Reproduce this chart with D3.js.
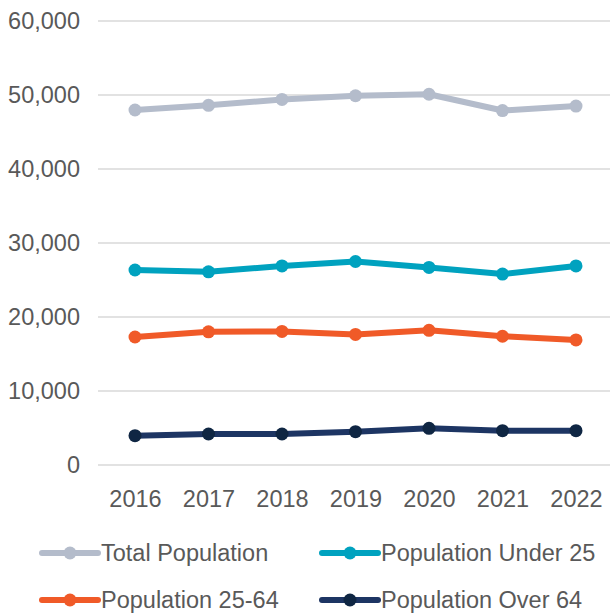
<!DOCTYPE html>
<html>
<head>
<meta charset="utf-8">
<script src="https://cdn.jsdelivr.net/npm/d3@7"></script>
<style>
  html, body { margin: 0; padding: 0; background: #fff; }
  svg { display: block; font-family: "Liberation Sans", Arial, sans-serif; }
</style>
</head>
<body>
<svg id="chart" width="610" height="613"></svg>
<script>
// Population by age group, 2016–2022
const years = ["2016", "2017", "2018", "2019", "2020", "2021", "2022"];
const totalPopulation = [47970, 48600, 49400, 49900, 50100, 47900, 48500];
const populationUnder25 = [26350, 26100, 26900, 27500, 26700, 25800, 26900];
const population25to64 = [17300, 18000, 18050, 17650, 18200, 17400, 16900];
const populationOver64 = [3960, 4190, 4190, 4500, 4960, 4640, 4640];
const yTicks = [0, 10000, 20000, 30000, 40000, 50000, 60000];

const series = [
  { name: "Total Population", values: totalPopulation, line: "#b4bccb", dot: "#b4bccb" },
  { name: "Population Under 25", values: populationUnder25, line: "#00a2bf", dot: "#00a2bf" },
  { name: "Population 25-64", values: population25to64, line: "#f05a28", dot: "#f05a28" },
  { name: "Population Over 64", values: populationOver64, line: "#1d3563", dot: "#0f2643" }
];

const svg = d3.select("#chart");
const textColor = "#595959";
const fontSize = 23.5;

const x = d3.scalePoint().domain(years).range([135, 576]);
const y = d3.scaleLinear().domain([0, 60000]).range([465, 21]);

// Horizontal gridlines
svg.append("g")
  .selectAll("line")
  .data(yTicks)
  .join("line")
  .attr("x1", 98).attr("x2", 610)
  .attr("y1", d => y(d)).attr("y2", d => y(d))
  .attr("stroke", "#d9d9d9")
  .attr("stroke-width", 1.5);

// Y axis labels
const yAxis = svg.append("g")
  .attr("transform", "translate(80,0)")
  .call(d3.axisLeft(y).tickValues(yTicks).tickFormat(d3.format(",")).tickSize(0).tickPadding(0));
yAxis.select(".domain").remove();
yAxis.selectAll("text")
  .attr("fill", textColor)
  .style("font-size", fontSize + "px")
  .style("font-family", "'Liberation Sans', Arial, sans-serif");

// X axis labels
const xAxis = svg.append("g")
  .attr("transform", "translate(0,490)")
  .call(d3.axisBottom(x).tickSize(0).tickPadding(0));
xAxis.select(".domain").remove();
xAxis.selectAll("text")
  .attr("fill", textColor)
  .attr("dy", "0.71em")
  .style("font-size", fontSize + "px")
  .style("font-family", "'Liberation Sans', Arial, sans-serif");

// Lines and markers
const line = d3.line().x((d, i) => x(years[i])).y(d => y(d));
const groups = svg.append("g")
  .selectAll("g")
  .data(series)
  .join("g");

groups.append("path")
  .attr("d", d => line(d.values))
  .attr("fill", "none")
  .attr("stroke", d => d.line)
  .attr("stroke-width", 6)
  .attr("stroke-linejoin", "round");

groups.each(function (s) {
  d3.select(this).selectAll("circle")
    .data(s.values)
    .join("circle")
    .attr("cx", (d, i) => x(years[i]))
    .attr("cy", d => y(d))
    .attr("r", 6.5)
    .attr("fill", s.dot);
});

// Legend
const legendPos = [
  { lx: 42, ly: 553 },
  { lx: 322, ly: 553 },
  { lx: 42, ly: 600 },
  { lx: 322, ly: 600 }
];
const legend = svg.append("g")
  .selectAll("g")
  .data(series)
  .join("g")
  .attr("transform", (d, i) => `translate(${legendPos[i].lx},${legendPos[i].ly})`);

legend.append("line")
  .attr("x1", 0).attr("x2", 56)
  .attr("y1", 0).attr("y2", 0)
  .attr("stroke", d => d.line)
  .attr("stroke-width", 6)
  .attr("stroke-linecap", "round");
legend.append("circle")
  .attr("cx", 28).attr("cy", 0).attr("r", 6.5)
  .attr("fill", d => d.dot);
legend.append("text")
  .attr("x", 59).attr("y", 0)
  .attr("dy", "0.35em")
  .attr("fill", textColor)
  .style("font-size", fontSize + "px")
  .text(d => d.name);
</script>
</body>
</html>
